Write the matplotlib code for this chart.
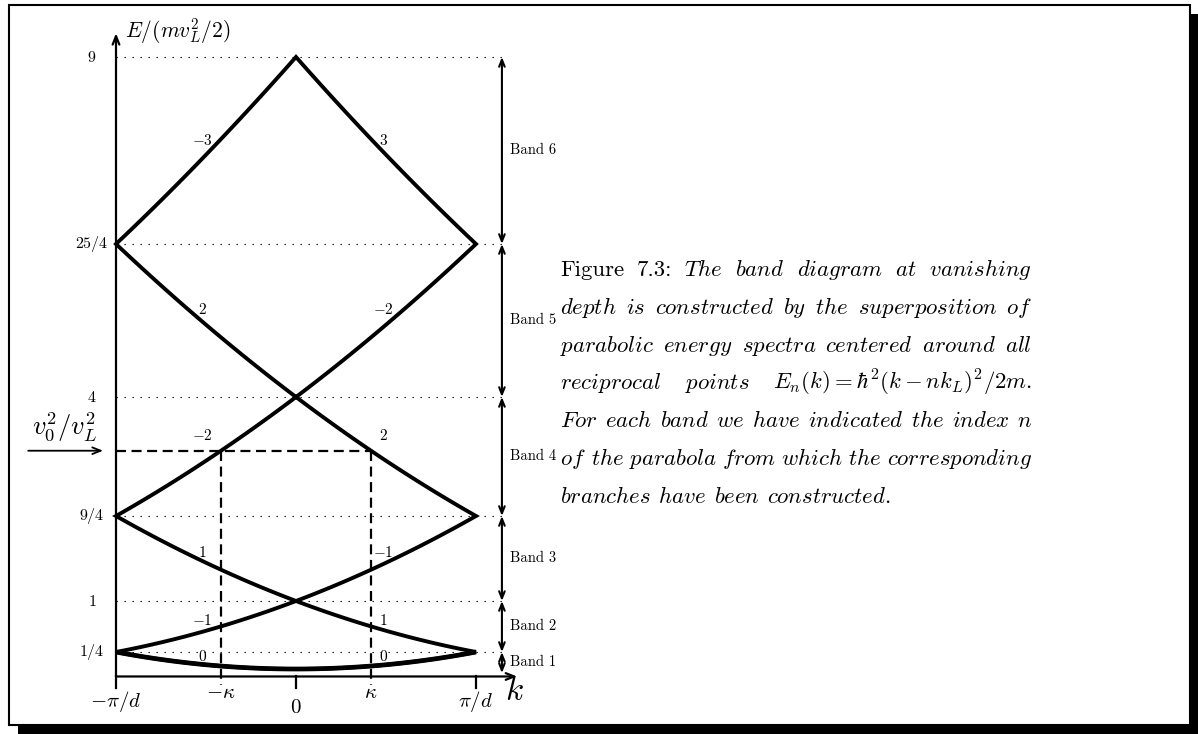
import re
import numpy as np
import matplotlib
matplotlib.use("Agg")
import matplotlib.pyplot as plt
from matplotlib.patches import Rectangle, Polygon

plt.rcParams['mathtext.fontset'] = 'cm'
plt.rcParams['font.family'] = ['cmr10', 'DejaVu Serif']

W, H = 1198, 734

# ---- data ----
# branches E_n(q) = (q - n)^2, q = k / k_L, walked as one closed zigzag
branch_n = [-3, 3, -2, 1, 0, -1, 2]
branch_q = [(-0.5, 0.0), (0.0, 0.5), (0.5, -0.5), (-0.5, 0.5),
            (0.5, -0.5), (-0.5, 0.5), (0.5, -0.5)]
level_vals = [0.25, 1, 2.25, 4, 6.25, 9]
level_labels = ['$1/4$', '$1$', '$9/4$', '$4$', '$25/4$', '$9$']
band_edges = [-0.06, 0.25, 1, 2.25, 4, 6.25, 9]
band_names = ['Band 1', 'Band 2', 'Band 3', 'Band 4', 'Band 5', 'Band 6']
idx_E = [7.77, 5.28, 3.43, 1.72, 0.72, 0.18]
idx_left = ['$-3$', '$2$', '$-2$', '$1$', '$-1$', '$0$']
idx_right = ['$3$', '$-2$', '$2$', '$-1$', '$1$', '$0$']
v0_ratio = 3.21
kappa = 2 - np.sqrt(v0_ratio)

caption = [
    "Figure 7.3: The band diagram at vanishing",
    "depth is constructed by the superposition of",
    "parabolic energy spectra centered around all",
    r"reciprocal points $E_n(k) = \hbar^2(k-nk_L)^2/2m.$",
    "For each band we have indicated the index $n$",
    "of the parabola from which the corresponding",
    "branches have been constructed.",
]

# ---- layout: pixel -> data mapping (q=0 at x=296, 360 px per unit; E=1/4 at y=652, 68 px per unit)
x0, sx = 296, 360
y0, sy = 652, 68

fig = plt.figure(figsize=(W / 100, H / 100), dpi=100)
ax = fig.add_axes([0, 0, 1, 1])
ax.set_xlim((0 - x0) / sx, (W - x0) / sx)
ax.set_ylim(0.25 - (H - y0) / sy, 0.25 + y0 / sy)
ax.axis('off')

E_axis = -0.11
q_right = 0.572
arrow = 'head_length=0.5,head_width=0.2'

# dotted level lines
for v in level_vals:
    ax.plot([-0.5, q_right], [v, v], color='black', lw=0.8,
            linestyle=(0, (1.2, 6)))

# parabola branches
pts = []
for n, (qa, qb) in zip(branch_n, branch_q):
    q = np.linspace(qa, qb, 120)
    pts.append(np.column_stack([q, (q - n) ** 2]))
pts = np.vstack(pts)
ax.add_patch(Polygon(pts, closed=True, fill=False, edgecolor='black',
                     lw=2.8, joinstyle='miter'))
q0 = np.linspace(-0.5, 0.5, 120)
ax.plot(q0, q0 ** 2, color='black', lw=3.4, solid_capstyle='butt')

# dashed v0 construction
dash = dict(color='black', lw=1.6, linestyle=(0, (4.5, 2.5)))
ax.plot([-0.5, kappa], [v0_ratio, v0_ratio], **dash)
for s in (-1, 1):
    ax.plot([s * kappa, s * kappa], [v0_ratio, -0.24], **dash)

# axes with arrows
ax.annotate('', xy=(-0.5, 9.35), xytext=(-0.5, E_axis),
            arrowprops=dict(arrowstyle='->,' + arrow, lw=1.6, color='black',
                            shrinkA=0, shrinkB=0, mutation_scale=12))
ax.annotate('', xy=(0.614, E_axis), xytext=(-0.5, E_axis),
            arrowprops=dict(arrowstyle='->,' + arrow, lw=1.6, color='black',
                            shrinkA=0, shrinkB=0, mutation_scale=12))
for q in (-0.5, 0, 0.5):
    ax.plot([q, q], [E_axis, -0.28], color='black', lw=1.6)

# incoming arrow for v0^2/vL^2
ax.annotate('', xy=(-0.536, v0_ratio), xytext=(-0.744, v0_ratio),
            arrowprops=dict(arrowstyle='->,' + arrow, lw=1.3, color='black',
                            shrinkA=0, shrinkB=0, mutation_scale=12))
ax.text(-0.644, 3.44, r'$v_0^2/v_L^2$', fontsize=19, ha='center',
        va='baseline')
ax.text(-0.475, 9.29, r'$E/(mv_L^2/2)$', fontsize=15.5, ha='left',
        va='baseline')

# x tick labels
ax.text(-0.5, -0.56, r'$-\pi/d$', fontsize=15, ha='center', va='baseline')
ax.text(0, -0.65, r'$0$', fontsize=15, ha='center', va='baseline')
ax.text(0.5, -0.56, r'$\pi/d$', fontsize=15, ha='center', va='baseline')
ax.text(-kappa, -0.43, r'$-\kappa$', fontsize=15, ha='center', va='baseline')
ax.text(kappa, -0.43, r'$\kappa$', fontsize=15, ha='center', va='baseline')
ax.text(0.608, -0.46, r'$k$', fontsize=24, ha='center', va='baseline')

# y level labels
for v, lab in zip(level_vals, level_labels):
    ax.text(-0.567, v, lab, fontsize=11.5, ha='center', va='center')

# branch index labels
for e, l, r in zip(idx_E, idx_left, idx_right):
    ax.text(-0.26, e, l, fontsize=11, ha='center', va='center')
    ax.text(0.242, e, r, fontsize=11, ha='center', va='center')

# band arrows
for lo, hi, name in zip(band_edges[:-1], band_edges[1:], band_names):
    ax.annotate('', xy=(q_right, hi), xytext=(q_right, lo),
                arrowprops=dict(arrowstyle='<->,' + arrow, lw=1.5,
                                color='black', shrinkA=0, shrinkB=0,
                                mutation_scale=10))
    ax.text(0.594, (lo + hi) / 2, name, fontsize=10.5, ha='left',
            va='center')


# ---- caption (justified) ----
def px(x, y):
    return x / W, 1 - y / H


left, right = 560, 1032
base0, skip = 275.7, 37.9
space = 0.25 * 100 / 72          # minimum interword space per pt, px
renderer = fig.canvas.get_renderer()

lines = []
for line in caption:
    toks = re.findall(r'\$[^$]*\$|\S+', line)
    strs = []
    for t in toks:
        if t.startswith('$') or t in ('Figure', '7.3:'):
            strs.append(t)
        else:
            strs.append(r'$\mathit{' + t + '}$')
    lines.append(strs)

# pick the largest size at which every line fits the column
probe = 20.0
cap_size = 22.5
for strs in lines[:-1]:
    ws = []
    for s in strs:
        t = fig.text(0, 0, s, fontsize=probe)
        ws.append(t.get_window_extent(renderer).width / probe)
        t.remove()
    need = sum(ws) + space * (len(ws) - 1)
    cap_size = min(cap_size, (right - left) / need)

for i, strs in enumerate(lines):
    texts = [fig.text(0, 0, s, fontsize=cap_size, ha='left', va='baseline',
                      transform=fig.transFigure) for s in strs]
    widths = [t.get_window_extent(renderer).width for t in texts]
    if i < len(lines) - 1:
        gap = (right - left - sum(widths)) / (len(texts) - 1)
    else:
        gap = 0.33 * 100 / 72 * cap_size
    x = left
    for t, w in zip(texts, widths):
        t.set_position(px(x, base0 + i * skip))
        x += w + gap

# ---- frame with shadow ----
fig.add_artist(Rectangle(px(9, 725), (1190 - 9) / W, (725 - 5) / H,
                         fill=False, lw=1.5, edgecolor='black',
                         transform=fig.transFigure))
fig.add_artist(Rectangle(px(1190, 734), 8 / W, (734 - 14) / H,
                         color='black', lw=0, transform=fig.transFigure))
fig.add_artist(Rectangle(px(18, 734), (1198 - 18) / W, 8 / H,
                         color='black', lw=0, transform=fig.transFigure))

fig.savefig('out.png', dpi=100)
